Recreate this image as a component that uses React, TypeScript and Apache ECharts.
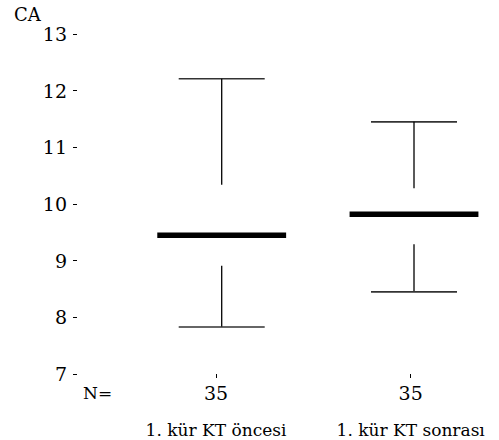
import React, { useEffect, useRef } from "react";
import * as echarts from "echarts";

const categories = ["1. kür KT öncesi", "1. kür KT sonrası"];
const counts = [35, 35];
const mins = [7.83, 8.45];
const q1s = [8.91, 9.29];
const medians = [9.45, 9.82];
const q3s = [10.34, 10.28];
const maxs = [12.21, 11.45];
const yTicks = [7, 8, 9, 10, 11, 12, 13];

const FONT = "DejaVu Serif";

export default function App() {
  const ref = useRef<HTMLDivElement>(null);
  useEffect(() => {
    if (!ref.current) return;
    const chart = echarts.init(ref.current, undefined, { renderer: "svg" });
    const data = categories.map((_, i) => [i + 1, mins[i], q1s[i], medians[i], q3s[i], maxs[i]]);
    const option: any = {
      animation: false,
      backgroundColor: "#fff",
      grid: { left: 77, right: 0, top: 34, bottom: 66 },
      xAxis: [
        {
          type: "value",
          min: 0.2475,
          max: 2.442,
          show: false,
        },
        {
          type: "value",
          min: 0.286,
          max: 2.4535,
          position: "bottom",
          axisLine: { show: false },
          splitLine: { show: false },
          axisTick: { show: true, length: 4, customValues: [1, 2], lineStyle: { color: "#000", width: 1 } },
          axisLabel: {
            customValues: [1, 2],
            margin: 6,
            fontFamily: FONT,
            color: "#000",
            formatter: (v: number) => {
              const i = Math.round(v) - 1;
              return `{n|${counts[i]}}\n{c|${categories[i]}}`;
            },
            rich: {
              n: { fontFamily: FONT, fontSize: 19, lineHeight: 26, color: "#000" },
              c: { fontFamily: FONT, fontSize: 17, lineHeight: 48, color: "#000" },
            },
          },
        },
      ],
      yAxis: {
        type: "value",
        min: 7,
        max: 13,
        interval: 1,
        axisLine: { show: false },
        splitLine: { show: false },
        axisTick: { show: true, length: 4, lineStyle: { color: "#000", width: 1 } },
        axisLabel: {
          margin: 10,
          fontFamily: FONT,
          fontSize: 19,
          color: "#000",
          formatter: (v: number) => (yTicks.includes(v) ? String(v) : ""),
        },
      },
      graphic: [
        { type: "text", left: 14, top: 5, style: { text: "CA", fontFamily: FONT, fontSize: 18, fill: "#000" } },
        { type: "text", left: 83, top: 384, style: { text: "N=", fontFamily: FONT, fontSize: 17, fill: "#000" } },
      ],
      series: [
        {
          type: "custom",
          xAxisIndex: 0,
          data,
          renderItem: (params: any, api: any) => {
            const x = api.value(0);
            const unit = api.size([1, 0])[0];
            const capHalf = unit * 0.2236;
            const boxHalf = unit * 0.335;
            const pMin = api.coord([x, api.value(1)]);
            const pQ1 = api.coord([x, api.value(2)]);
            const pMed = api.coord([x, api.value(3)]);
            const pQ3 = api.coord([x, api.value(4)]);
            const pMax = api.coord([x, api.value(5)]);
            const cx = pMin[0];
            const thin = { stroke: "#000", lineWidth: 1.3 };
            const cap = { stroke: "#333", lineWidth: 1.6 };
            return {
              type: "group",
              children: [
                { type: "line", shape: { x1: cx - capHalf, y1: pMax[1], x2: cx + capHalf, y2: pMax[1] }, style: cap },
                { type: "line", shape: { x1: cx, y1: pMax[1], x2: cx, y2: pQ3[1] }, style: thin },
                { type: "line", shape: { x1: cx, y1: pQ1[1], x2: cx, y2: pMin[1] }, style: thin },
                { type: "line", shape: { x1: cx - capHalf, y1: pMin[1], x2: cx + capHalf, y2: pMin[1] }, style: cap },
                { type: "line", shape: { x1: cx - boxHalf, y1: pMed[1], x2: cx + boxHalf, y2: pMed[1] }, style: { stroke: "#000", lineWidth: 5.5 } },
              ],
            };
          },
        },
      ],
    };
    chart.setOption(option);
    return () => chart.dispose();
  }, []);
  return <div ref={ref} style={{ position: "absolute", left: 0, top: 0, width: 499, height: 440 }} />;
}
